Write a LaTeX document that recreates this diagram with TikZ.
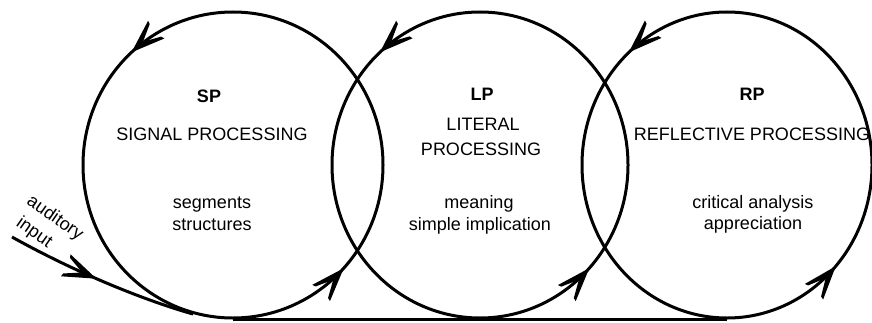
\documentclass[tikz,border=0pt]{standalone}
\usepackage{fontspec}
\setmainfont{Liberation Sans}
\usetikzlibrary{shapes.geometric,decorations.markings}
\newcommand{\barbhead}{\fill (1.5,0) -- (-32,12) -- (-31,8.5) -- (-14,0) -- (-31,-8.5) -- (-32,-12) -- cycle;}
\begin{document}
\begin{tikzpicture}[x=1pt,y=1pt,
  stroke/.style={line width=3pt},
  loop/.style={ellipse, draw, stroke, inner sep=0pt, minimum height=306pt},
  tipat/.style={decorate, decoration={markings, mark=at position #1 with {\barbhead}}},
  lbl/.style={anchor=base, inner sep=0pt, font=\fontsize{18}{22}\selectfont},
  head/.style={lbl, font=\fontsize{18}{22}\selectfont\bfseries}]
\useasboundingbox (0,0) rectangle (872,322);

% the three processing stages
\node[loop, minimum width=300pt] (sp) at (233,157) {};
\node[loop, minimum width=296pt] (lp) at (480,157) {};
\node[loop, minimum width=290pt] (rp) at (727,157) {};

% direction of travel round each stage
\path[tipat=1] (sp.center) ++(110:150 and 153) arc[start angle=110, end angle=132, x radius=150, y radius=153];
\path[tipat=1] (sp.center) ++(295:150 and 153) arc[start angle=295, end angle=317, x radius=150, y radius=153];
\path[tipat=1] (lp.center) ++(110:148 and 153) arc[start angle=110, end angle=132, x radius=148, y radius=153];
\path[tipat=1] (lp.center) ++(295:148 and 153) arc[start angle=295, end angle=317, x radius=148, y radius=153];
\path[tipat=1] (rp.center) ++(110:145 and 153) arc[start angle=110, end angle=132, x radius=145, y radius=153];
\path[tipat=1] (rp.center) ++(296:145 and 153) arc[start angle=296, end angle=318, x radius=145, y radius=153];

% common base line
\draw[stroke] (sp.south) -- (rp.south);

% incoming signal
\coordinate (inp) at (12,85);
\draw[stroke, postaction={tipat=0.47}]
  (inp) .. controls (80,47) and (150,20) .. (sp.255);
\node[anchor=center, inner sep=0pt, rotate=-35, align=left,
  font=\fontsize{18}{24}\selectfont] (aud) at (48,94) {auditory\\\hspace*{4pt}input};

% signal processing
\node[head] (sph) at (209,220) {SP};
\node[lbl] (spn) at (212,182) {SIGNAL PROCESSING};
\node[lbl] (spa) at (212,114) {segments};
\node[lbl] (spb) at (212,92) {structures};

% literal processing
\node[head] (lph) at (482,222) {LP};
\node[lbl] (lpn1) at (483,192) {LITERAL};
\node[lbl] (lpn2) at (481,167) {PROCESSING};
\node[lbl] (lpa) at (479,114) {meaning};
\node[lbl] (lpb) at (480,92) {simple implication};

% reflective processing
\node[head] (rph) at (752,222) {RP};
\node[lbl] (rpn) at (752,182) {REFLECTIVE PROCESSING};
\node[lbl] (rpa) at (753,114) {critical analysis};
\node[lbl] (rpb) at (753,93) {appreciation};
\end{tikzpicture}
\end{document}
